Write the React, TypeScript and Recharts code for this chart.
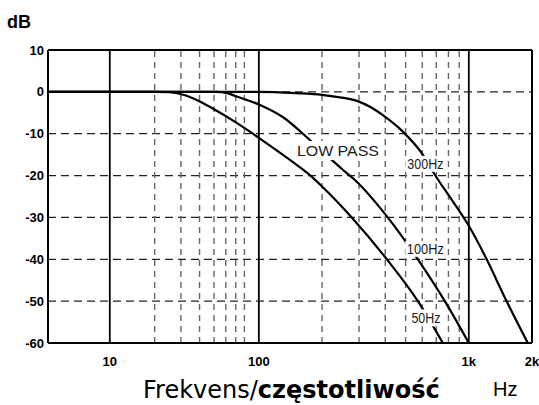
import React from "react";
import { LineChart, Line, XAxis, YAxis, ReferenceLine, ReferenceDot } from "recharts";

// axis ticks
const xTickFreqs = [10, 100, 1000, 2000];
const xTickLabels = ["10", "100", "1k", "2k"];
const yTicks = [10, 0, -10, -20, -30, -40, -50, -60];

// grid
const majorFreqs = [10, 100, 1000];
const minorFreqs = [20, 30, 40, 50, 60, 70, 80, 200, 300, 400, 500, 600, 700, 800, 900];
const gridDb = [0, -10, -20, -30, -40, -50];

// low pass curves (Hz / dB)
const lp50Freq = [3.85, 20, 25, 32, 38, 48, 71, 87, 100, 140, 175, 200, 277, 407, 572, 752];
const lp50Db = [0, 0, -0.1, -0.8, -1.9, -3.8, -7.4, -9.5, -11, -16.2, -19.9, -22.6, -30, -40, -50, -60];

const lp100Freq = [3.85, 52, 62, 71, 100, 130, 175, 251, 286, 411, 572, 769, 1000];
const lp100Db = [0, 0, -0.35, -1.1, -3, -6, -11.5, -18.6, -21, -30, -40, -50, -60];

const lp300Freq = [3.85, 100, 150, 200, 243, 293, 345, 385, 485, 604, 689, 830, 1000, 1205, 1500, 1910];
const lp300Db = [0, 0, -0.3, -0.7, -1.3, -2.15, -3.8, -5.4, -9.5, -15, -19.8, -25.8, -32, -39.6, -49.6, -60];

// curve labels (Hz / dB of the label centre)
const labelTexts = ["LOW PASS", "300Hz", "100Hz", "50Hz"];
const labelFreqs = [238, 621, 621, 625];
const labelDbs = [-14.0, -17.2, -37.5, -54.0];

const labelBox: Record<string, { w: number; h: number; len: number }> = {
  "LOW PASS": { w: 88, h: 19, len: 82 },
  "300Hz": { w: 40, h: 16, len: 36 },
  "100Hz": { w: 40, h: 16, len: 37 },
  "50Hz": { w: 32, h: 17, len: 29 },
};

// the 10..100 decade is drawn narrower than 100..1k on the original sheet
const DECADE_LOW = 0.71;
const toAxis = (f: number) =>
  f >= 100 ? Math.log10(f / 100) : Math.log10(f / 100) * DECADE_LOW;

const X_MIN = toAxis(3.85);
const X_MAX = toAxis(2000);
const xTicks = xTickFreqs.map(toAxis);

const toPoints = (freq: number[], db: number[]) =>
  freq.map((f, i) => ({ u: toAxis(f), db: db[i] }));

const series = [
  toPoints(lp50Freq, lp50Db),
  toPoints(lp100Freq, lp100Db),
  toPoints(lp300Freq, lp300Db),
];

const tickFont = "'Liberation Sans', Arial, sans-serif";

const boxLabel = (text: string) => (props: any) => {
  const { cx, cy } = props;
  const b = labelBox[text];
  const fs = 15;
  return (
    <g>
      <rect x={cx - b.w / 2} y={cy - b.h / 2} width={b.w} height={b.h} fill="#fff" />
      <text
        x={cx - b.len / 2}
        y={cy + fs * 0.36}
        fontSize={fs}
        fontFamily={tickFont}
        fill="#1a1a1a"
        textLength={b.len}
        lengthAdjust="spacingAndGlyphs"
      >
        {text}
      </text>
    </g>
  );
};

export default function App() {
  return (
    <div
      style={{
        position: "absolute",
        left: 0,
        top: 0,
        width: 539,
        height: 405,
        background: "#fff",
        overflow: "hidden",
      }}
    >
      <LineChart width={539} height={405} margin={{ top: 50, right: 7, bottom: 32, left: 0 }}>
        <XAxis
          type="number"
          dataKey="u"
          domain={[X_MIN, X_MAX]}
          ticks={xTicks}
          interval={0}
          allowDataOverflow
          axisLine={false}
          tickLine={false}
          tickSize={0}
          tickMargin={14}
          height={30}
          tick={{ fill: "#000", fontSize: 13, fontWeight: 700, fontFamily: tickFont }}
          tickFormatter={(v: number) => {
            const i = xTicks.findIndex((t) => Math.abs(t - v) < 1e-6);
            return i >= 0 ? xTickLabels[i] : "";
          }}
        />
        <YAxis
          type="number"
          domain={[-60, 10]}
          ticks={yTicks}
          interval={0}
          allowDataOverflow
          width={48}
          axisLine={false}
          tickLine={false}
          tickSize={0}
          tickMargin={4}
          tick={{ fill: "#000", fontSize: 13, fontWeight: 700, fontFamily: tickFont }}
        />

        {/* grid */}
        {gridDb.map((d) => (
          <ReferenceLine key={"h" + d} y={d} stroke="#222" strokeWidth={1.3} strokeDasharray="8 5" zIndex={-50} />
        ))}
        {minorFreqs.map((f) => (
          <ReferenceLine key={"v" + f} x={toAxis(f)} stroke="#666" strokeWidth={1.4} strokeDasharray="6 5" zIndex={-50} />
        ))}
        {majorFreqs.map((f) => (
          <ReferenceLine key={"m" + f} x={toAxis(f)} stroke="#000" strokeWidth={1.8} zIndex={-50} />
        ))}

        {/* frame */}
        <ReferenceLine y={10} stroke="#000" strokeWidth={2} zIndex={-40} />
        <ReferenceLine y={-60} stroke="#000" strokeWidth={2} zIndex={-40} />
        <ReferenceLine x={X_MIN} stroke="#000" strokeWidth={2} zIndex={-40} />
        <ReferenceLine x={X_MAX} stroke="#000" strokeWidth={2} zIndex={-40} />

        {series.map((pts, i) => (
          <Line
            key={i}
            data={pts}
            dataKey="db"
            type="monotone"
            stroke="#000"
            strokeWidth={2.2}
            dot={false}
            activeDot={false}
            isAnimationActive={false}
          />
        ))}

        {labelTexts.map((t, i) => (
          <ReferenceDot
            key={t}
            x={toAxis(labelFreqs[i])}
            y={labelDbs[i]}
            r={0}
            zIndex={2500}
            shape={boxLabel(t)}
          />
        ))}
      </LineChart>

      <div
        style={{
          position: "absolute",
          left: 7,
          top: 13,
          fontFamily: tickFont,
          fontWeight: 700,
          fontSize: 18,
          lineHeight: "18px",
          color: "#000",
        }}
      >
        dB
      </div>
      <div
        style={{
          position: "absolute",
          left: 143,
          top: 378,
          fontFamily: "'DejaVu Sans', sans-serif",
          fontSize: 24,
          lineHeight: "24px",
          color: "#000",
          whiteSpace: "nowrap",
        }}
      >
        Frekvens/<span style={{ fontWeight: 700 }}>częstotliwość</span>
      </div>
      <div
        style={{
          position: "absolute",
          left: 493,
          top: 379,
          fontFamily: tickFont,
          fontSize: 20,
          lineHeight: "20px",
          color: "#000",
        }}
      >
        Hz
      </div>
    </div>
  );
}
